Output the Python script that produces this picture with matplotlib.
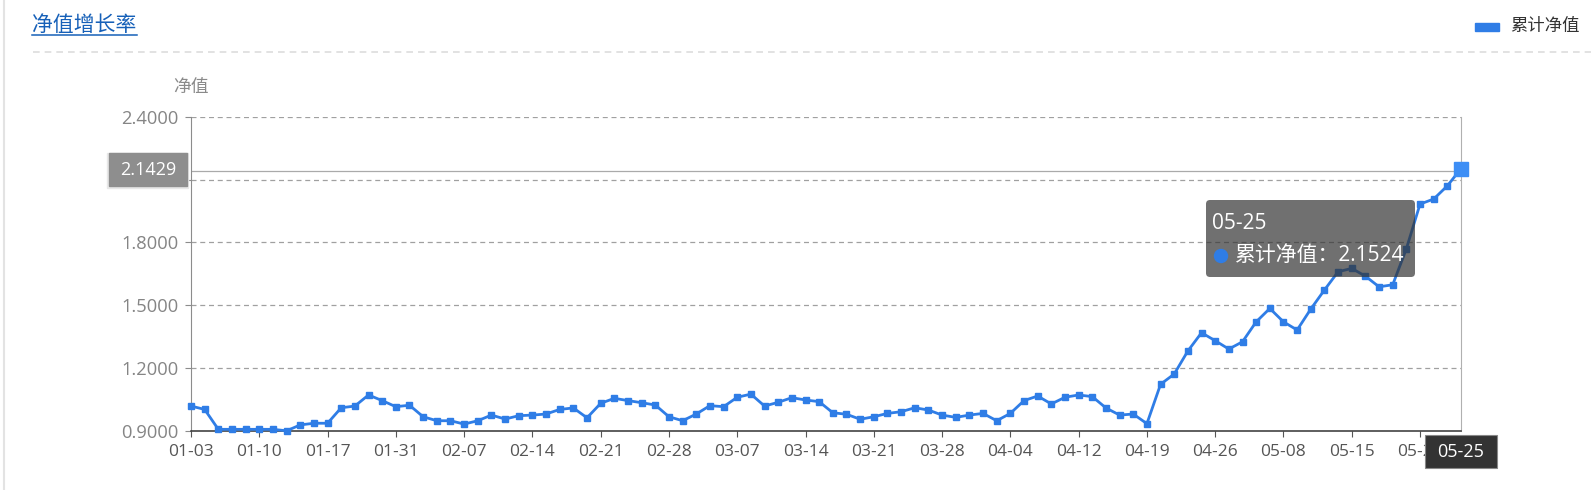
import matplotlib
matplotlib.use('Agg')
import matplotlib.pyplot as plt
import matplotlib.transforms as mtransforms
from matplotlib.patches import FancyBboxPatch, Rectangle, Circle
from matplotlib.lines import Line2D

plt.rcParams['font.family'] = ['Open Sans', 'Noto Sans CJK SC', 'DejaVu Sans']

# trading days 2023-01-03 .. 2023-05-25
dates = [
    '01-03', '01-04', '01-05', '01-06', '01-09', '01-10', '01-11', '01-12', '01-13', '01-16',
    '01-17', '01-18', '01-19', '01-20', '01-30', '01-31', '02-01', '02-02', '02-03', '02-06',
    '02-07', '02-08', '02-09', '02-10', '02-13', '02-14', '02-15', '02-16', '02-17', '02-20',
    '02-21', '02-22', '02-23', '02-24', '02-27', '02-28', '03-01', '03-02', '03-03', '03-06',
    '03-07', '03-08', '03-09', '03-10', '03-13', '03-14', '03-15', '03-16', '03-17', '03-20',
    '03-21', '03-22', '03-23', '03-24', '03-27', '03-28', '03-29', '03-30', '03-31', '04-03',
    '04-04', '04-06', '04-07', '04-10', '04-11', '04-12', '04-13', '04-14', '04-17', '04-18',
    '04-19', '04-20', '04-21', '04-24', '04-25', '04-26', '04-27', '04-28', '05-04', '05-05',
    '05-08', '05-09', '05-10', '05-11', '05-12', '05-15', '05-16', '05-17', '05-18', '05-19',
    '05-22', '05-23', '05-24', '05-25',
]

nav = [
    1.019, 1.003, 0.908, 0.908, 0.908, 0.908, 0.908, 0.901, 0.929, 0.937,
    0.937, 1.011, 1.019, 1.072, 1.045, 1.016, 1.023, 0.968, 0.949, 0.949,
    0.933, 0.949, 0.976, 0.957, 0.973, 0.976, 0.981, 1.003, 1.010, 0.963,
    1.032, 1.056, 1.045, 1.035, 1.024, 0.968, 0.949, 0.981, 1.021, 1.016,
    1.061, 1.076, 1.019, 1.037, 1.059, 1.048, 1.040, 0.987, 0.980, 0.956,
    0.968, 0.984, 0.992, 1.011, 1.000, 0.976, 0.965, 0.976, 0.984, 0.949,
    0.984, 1.045, 1.067, 1.029, 1.061, 1.072, 1.064, 1.010, 0.976, 0.981,
    0.935, 1.123, 1.172, 1.282, 1.369, 1.331, 1.291, 1.326, 1.421, 1.485,
    1.421, 1.382, 1.482, 1.573, 1.660, 1.676, 1.639, 1.588, 1.598, 1.770,
    1.983, 2.007, 2.070, 2.1524,
]

y_ticks = [0.9, 1.2, 1.5, 1.8, 2.1, 2.4]
cursor_value = 2.1429
series_name = '累计净值'

W, H = 1591, 490
fig = plt.figure(figsize=(W / 100, H / 100), dpi=100)
px = mtransforms.IdentityTransform()


def fx(x):
    return x / W


def fy(y):
    return 1 - y / H


ax = fig.add_axes([fx(191), fy(431), fx(1461) - fx(191), fy(116.7) - fy(431)])
x = list(range(len(nav)))
blue = '#2f7de6'

ax.plot(x, nav, color=blue, lw=2.0, marker='s', ms=4.6, zorder=3, clip_on=False)
ax.plot(x[-1], nav[-1], marker='s', ms=10, color='#3d8ef5', zorder=4, clip_on=False)

ax.set_xlim(0, len(nav) - 1)
ax.set_ylim(0.9, 2.4)
ax.set_yticks(y_ticks)
# the 2.1000 label sits under the axis-pointer box in the reference
ax.set_yticklabels(['' if v == 2.1 else '%.4f' % v for v in y_ticks])
ax.set_xticks(x[::5])
ax.set_xticklabels(dates[::5])

for v in y_ticks[1:]:
    ax.axhline(v, color='#a0a0a0', lw=0.9, ls=(0, (4, 3)), zorder=1)
ax.axhline(cursor_value, color='#aaaaaa', lw=0.9, zorder=2)

ax.spines['top'].set_visible(False)
ax.spines['left'].set_color('#8c8c8c')
ax.spines['right'].set_color('#b0b0b0')
ax.spines['bottom'].set_color('#333333')
ax.spines['bottom'].set_linewidth(1.1)

ax.tick_params(axis='y', colors='#8c8c8c', labelcolor='#858585', labelsize=13.2, length=4, pad=5)
ax.tick_params(axis='x', colors='#555555', labelcolor='#555555', labelsize=12.5, length=4, pad=5)

# header
fig.text(fx(32), fy(25), '净值增长率', fontsize=15, color='#1660b8', va='center', ha='left')
fig.add_artist(Line2D([fx(32), fx(137)], [fy(35), fy(35)], color='#1660b8', lw=1.1))
fig.add_artist(Line2D([fx(33), fx(1591)], [fy(52), fy(52)], color='#dddddd', lw=1.2, ls=(0, (4, 3))))
fig.add_artist(Line2D([fx(3.5), fx(3.5)], [0, 1], color='#e3e3e3', lw=1.5))

# legend
fig.add_artist(Rectangle((1475, H - 31), 24, 8, transform=px, color=blue))
fig.text(fx(1510), fy(27), series_name, fontsize=12.5, color='#333333', va='center', ha='left')

# y axis name
fig.text(fx(191), fy(87), '净值', fontsize=12.8, color='#8a8a8a', va='center', ha='center')

# axis pointer labels
fig.add_artist(Rectangle((107, H - 188), 81, 35, transform=px, color='#e8e8e8', zorder=4))
fig.add_artist(Rectangle((109, H - 186), 78, 33, transform=px, color='#8e8e8e', zorder=5))
fig.text(fx(148), fy(169.5), '%.4f' % cursor_value, fontsize=13, color='white', va='center', ha='center', zorder=6)
fig.add_artist(Rectangle((1425, H - 468), 72, 33, transform=px, facecolor='#333333', edgecolor='#888888', lw=0.8, zorder=5))
fig.text(fx(1461), fy(452), dates[-1], fontsize=13, color='white', va='center', ha='center', zorder=6)

# tooltip
fig.add_artist(FancyBboxPatch((1206, H - 277), 209, 77, boxstyle='round,pad=0,rounding_size=4',
                              transform=px, facecolor=(0.2, 0.2, 0.2, 0.7), edgecolor='none', zorder=5))
fig.text(fx(1212), fy(223), dates[-1], fontsize=15, color='white', va='center', ha='left', zorder=6)
fig.add_artist(Circle((1221, H - 256), 6.5, transform=px, color=blue, zorder=6))
fig.text(fx(1235), fy(255), '%s：%.4f' % (series_name, nav[-1]), fontsize=15, color='white',
         va='center', ha='left', zorder=6)

fig.savefig('out.png', dpi=100)
